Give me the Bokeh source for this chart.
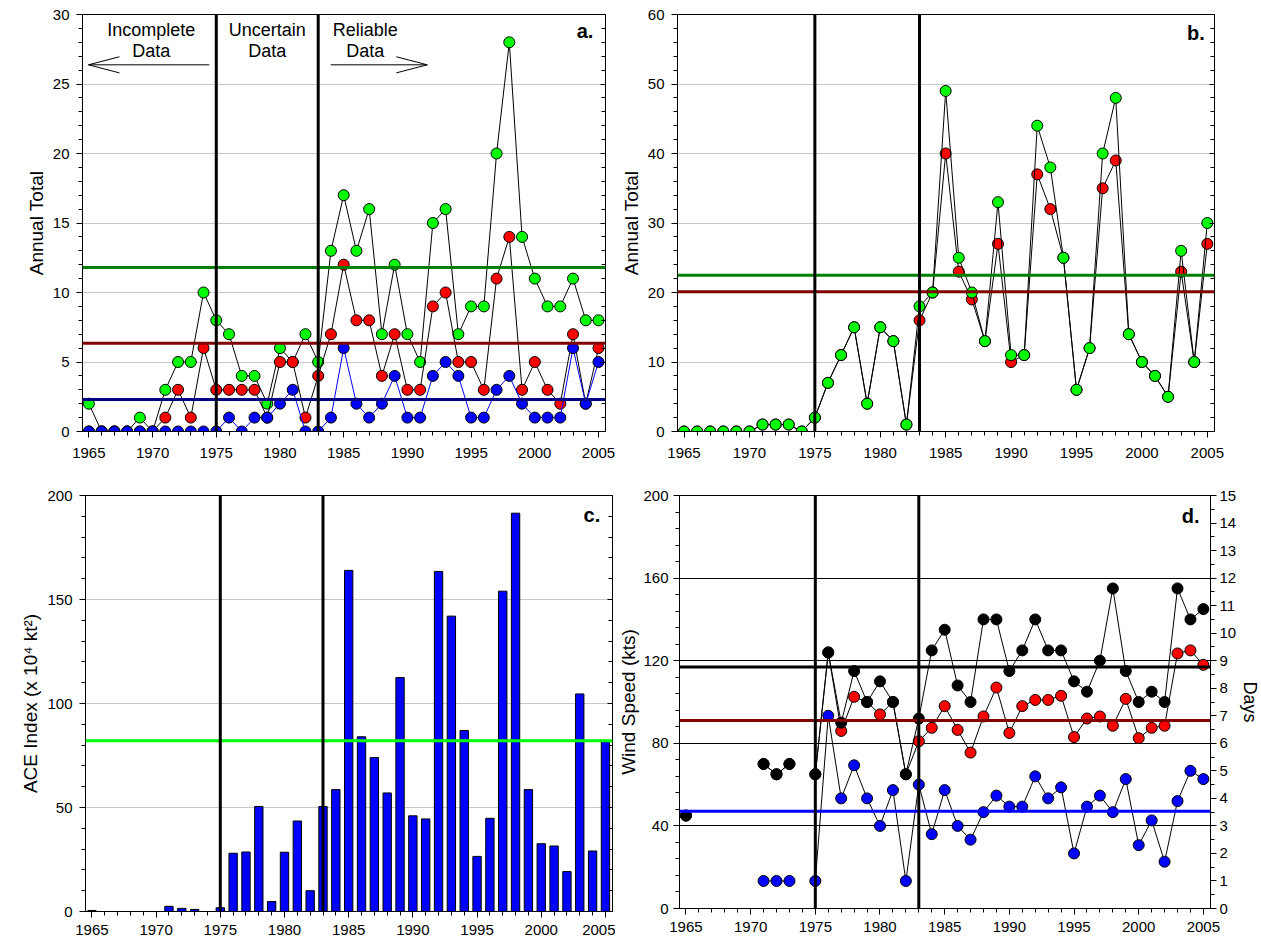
import math
from bokeh.plotting import figure
from bokeh.models import (Range1d, LinearAxis, SingleIntervalTicker, Span, Label,
                          CustomJSTickFormatter)
from bokeh.layouts import row, column
from bokeh.embed import file_html
from bokeh.resources import INLINE

nan = float('nan')
years = list(range(1965, 2006))

# ---- panel a (annual totals) ----
a_green = [2, 0, 0, 0, 1, 0, 3, 5, 5, 10, 8, 7, 4, 4, 2, 6, 5, 7, 5, 13, 17, 13, 16, 7, 12,
           7, 5, 15, 16, 7, 9, 9, 20, 28, 14, 11, 9, 9, 11, 8, 8]
a_red = [0, 0, 0, 0, 0, 0, 1, 3, 1, 6, 3, 3, 3, 3, 1, 5, 5, 1, 4, 7, 12, 8, 8, 4, 7,
         3, 3, 9, 10, 5, 5, 3, 11, 14, 3, 5, 3, 2, 7, 2, 6]
a_blue = [0, 0, 0, 0, 0, 0, 0, 0, 0, 0, 0, 1, 0, 1, 1, 2, 3, 0, 0, 1, 6, 2, 1, 2, 4,
          1, 1, 4, 5, 4, 1, 1, 3, 4, 2, 1, 1, 1, 6, 2, 5]
a_means = {"green": 11.8, "red": 6.35, "blue": 2.3}

# ---- panel b (annual totals) ----
b_green = [0, 0, 0, 0, 0, 0, 1, 1, 1, 0, 2, 7, 11, 15, 4, 15, 13, 1, 18, 20, 49, 25, 20, 13, 33,
           11, 11, 44, 38, 25, 6, 12, 40, 48, 14, 10, 8, 5, 26, 10, 30]
b_red = [0, 0, 0, 0, 0, 0, 1, 1, 1, 0, 2, 7, 11, 15, 4, 15, 13, 1, 16, 20, 40, 23, 19, 13, 27,
         10, 11, 37, 32, 25, 6, 12, 35, 39, 14, 10, 8, 5, 23, 10, 27]
b_means = {"green": 22.5, "red": 20.1}

# ---- panel c (ACE index) ----
c_ace = [0.5, 0, 0, 0, 0, 0, 2.5, 1.5, 1, 0, 1.8, 28, 28.6, 50.5, 4.8, 28.5, 43.5, 10, 50.5, 58.6,
         164, 84, 74, 57, 112.5, 46, 44.5, 163.5, 142, 87, 26.5, 44.8, 154, 191.5, 58.6,
         32.6, 31.5, 19.2, 104.6, 29.1, 82]
c_mean = 82.1

# ---- panel d (wind speed, days) ----
d_black = [45, nan, nan, nan, nan, nan, 70, 65, 70, nan, 65, 124, 90, 115, 100, 110, 100, 65, 92,
           125, 135, 108, 100, 140, 140, 115, 125, 140, 125, 125, 110, 105, 120, 155, 115,
           100, 105, 100, 155, 140, 145]
d_red = [45, nan, nan, nan, nan, nan, 70, 65, 70, nan, 65, 124, 86, 102.5, 100, 94, 100, 65, 81,
         87.5, 98, 86.5, 75.5, 93, 107, 85, 98, 101, 101, 103, 83, 92, 93, 88.5, 101.5,
         82.5, 87.5, 88.5, 123.5, 125, 118]
d_blue_days = [nan, nan, nan, nan, nan, nan, 1, 1, 1, nan, 1, 7, 4, 5.2, 4, 3, 4.3, 1, 4.5,
               2.7, 4.3, 3, 2.5, 3.5, 4.1, 3.7, 3.7, 4.8, 4, 4.4, 2, 3.7, 4.1, 3.5, 4.7,
               2.3, 3.2, 1.7, 3.9, 5, 4.7]
d_means = {"black": 117, "red": 91, "blue_days": 3.53}

period_bounds = [1975, 1983]

FONT = "Liberation Sans"
GREEN = "#00ff00"
RED = "#ff0000"
BLUE = "#0000ff"
XR = (1964.5, 2005.55)


def make_fig(yr, fw, fh, bl, br, bt, bb):
    p = figure(x_range=Range1d(*XR), y_range=Range1d(*yr), frame_width=fw, frame_height=fh,
               min_border_left=bl, min_border_right=br, min_border_top=bt, min_border_bottom=bb,
               output_backend="svg", toolbar_location=None)
    p.outline_line_color = "black"
    p.outline_line_width = 1
    p.background_fill_color = "white"
    p.border_fill_color = "white"
    p.xgrid.visible = False
    return p


def tick_style(ax):
    ax.major_label_text_font = FONT
    ax.major_label_text_font_size = "15px"
    ax.major_label_text_color = "black"
    ax.axis_line_color = "black"
    ax.major_tick_line_color = "black"
    ax.minor_tick_line_color = "black"
    ax.major_tick_out = 6
    ax.major_tick_in = 0
    ax.minor_tick_out = 4
    ax.minor_tick_in = 0


def style_axes(p, yint, yminor, ylabel, xstand=10, ystand=7, lstand=3,
               grid_color="#c8c8c8", mirror=True):
    xa = p.xaxis[0]
    xa.ticker = SingleIntervalTicker(interval=5, num_minor_ticks=5)
    ya = p.yaxis[0]
    ya.ticker = SingleIntervalTicker(interval=yint, num_minor_ticks=yminor)
    tick_style(xa)
    tick_style(ya)
    xa.major_label_standoff = xstand
    ya.major_label_standoff = ystand
    ya.axis_label = ylabel
    ya.axis_label_text_font = FONT
    ya.axis_label_text_font_size = "19px"
    ya.axis_label_text_font_style = "normal"
    ya.axis_label_text_color = "black"
    ya.axis_label_standoff = lstand
    p.ygrid.grid_line_color = grid_color
    p.ygrid.grid_line_width = 1
    p.ygrid.ticker = ya.ticker
    if mirror:
        rax = LinearAxis(ticker=SingleIntervalTicker(interval=yint, num_minor_ticks=yminor),
                         formatter=CustomJSTickFormatter(code="return ''"),
                         major_tick_in=5, major_tick_out=0, minor_tick_in=4, minor_tick_out=0,
                         major_label_standoff=0, axis_line_color="black",
                         major_tick_line_color="black", minor_tick_line_color="black",
                         major_label_text_font_size="1px")
        p.add_layout(rax, "right")


def add_periods(p):
    for yr in period_bounds:
        p.add_layout(Span(location=yr, dimension="height", line_color="black", line_width=3))


def add_hline(p, val, color, width=3, rng="default"):
    p.add_layout(Span(location=val, dimension="width", line_color=color, line_width=width,
                      y_range_name=rng))


def add_tag(p, text, x, y):
    p.add_layout(Label(x=x, y=y, text=text, text_font=FONT, text_font_size="20px",
                       text_font_style="bold", text_color="black", text_align="right",
                       text_baseline="middle"))


def series(p, ys, fill, line_color="black", rng="default"):
    p.line(years, ys, line_color=line_color, line_width=1, y_range_name=rng)
    p.scatter(years, ys, size=11, fill_color=fill, line_color="black", line_width=1,
              y_range_name=rng)


# ---------------- panel a ----------------
pa = make_fig((0, 30), 523, 417, 82, 10, 14, 38)
style_axes(pa, 5, 5, "Annual Total")
add_hline(pa, a_means["green"], "#008000")
add_hline(pa, a_means["red"], "#800000")
add_hline(pa, a_means["blue"], "#000080")
series(pa, a_green, GREEN)
series(pa, a_red, RED)
series(pa, a_blue, BLUE, line_color=BLUE)
add_periods(pa)
for txt, xc in (("Incomplete", 1969.9), ("Uncertain", 1979.0), ("Reliable", 1986.7)):
    pa.add_layout(Label(x=xc, y=28.85, text=txt, text_font=FONT, text_font_size="18px",
                        text_color="black", text_align="center", text_baseline="middle"))
    pa.add_layout(Label(x=xc, y=27.41, text="Data", text_font=FONT, text_font_size="18px",
                        text_color="black", text_align="center", text_baseline="middle"))
# arrows
ay = 26.38
hl, hw = 2.43, 0.58
pa.segment(x0=[1974.45, 1964.97, 1964.97], y0=[ay, ay, ay],
           x1=[1964.97, 1964.97 + hl, 1964.97 + hl], y1=[ay, ay + hw, ay - hw],
           line_color="black", line_width=1)
pa.segment(x0=[1983.98, 1991.56, 1991.56], y0=[ay, ay, ay],
           x1=[1991.56, 1991.56 - hl, 1991.56 - hl], y1=[ay, ay + hw, ay - hw],
           line_color="black", line_width=1)
add_tag(pa, "a.", 2004.6, 28.8)

# ---------------- panel b ----------------
pb = make_fig((0, 60), 537, 417, 62, 40, 14, 38)
style_axes(pb, 10, 5, "Annual Total")
add_hline(pb, b_means["green"], "#008000")
add_hline(pb, b_means["red"], "#800000")
series(pb, b_red, RED)
series(pb, b_green, GREEN)
add_periods(pb)
add_tag(pb, "b.", 2004.8, 57.4)

# ---------------- panel c ----------------
pc = make_fig((0, 200), 527, 416, 85, 3, 22, 29)
style_axes(pc, 50, 5, "ACE Index (x 10\u2074 kt\u00b2)", xstand=7)
pc.vbar(x=years, top=c_ace, width=0.65, fill_color=BLUE, line_color="black", line_width=1)
add_hline(pc, c_mean, GREEN)
add_periods(pc)
add_tag(pc, "c.", 2004.6, 190.5)

# ---------------- panel d ----------------
pd = make_fig((0, 200), 531, 413, 62, 47, 26, 28)
style_axes(pd, 40, 5, "Wind Speed (kts)", xstand=7, ystand=5, lstand=1,
           grid_color="black", mirror=False)
pd.extra_y_ranges = {"days": Range1d(0, 15)}
rax = LinearAxis(y_range_name="days", axis_label="Days",
                 ticker=SingleIntervalTicker(interval=1, num_minor_ticks=2))
tick_style(rax)
rax.major_label_standoff = 3
rax.axis_label_text_font = FONT
rax.axis_label_text_font_size = "18px"
rax.axis_label_text_font_style = "normal"
rax.axis_label_text_color = "black"
rax.axis_label_standoff = 1
pd.add_layout(rax, "right")
add_hline(pd, d_means["black"], "black")
add_hline(pd, d_means["red"], "#800000")
add_hline(pd, d_means["blue_days"], BLUE, rng="days")
series(pd, d_blue_days, BLUE, rng="days")
series(pd, d_red, RED)
series(pd, d_black, "black")
add_periods(pd)
add_tag(pd, "d.", 2004.7, 189.9)

layout = column(row(pa, pb), row(pc, pd))
open("out.html", "w").write(file_html(layout, INLINE))
